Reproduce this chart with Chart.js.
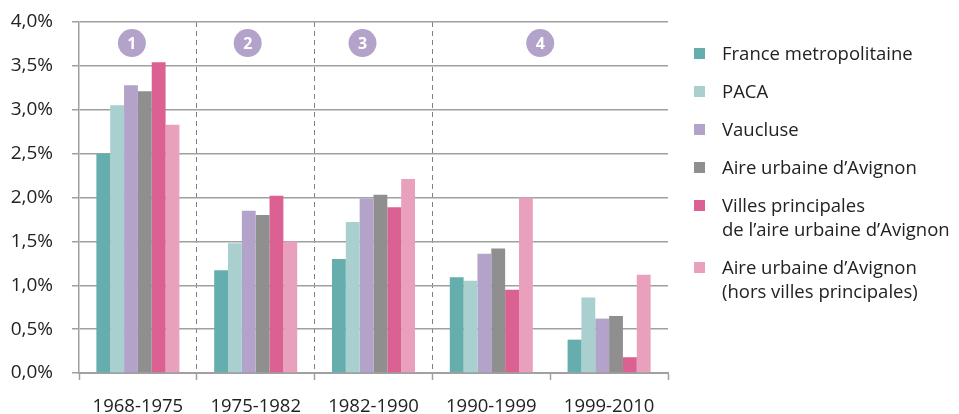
<!DOCTYPE html>
<html><head><meta charset="utf-8">
<script src="https://cdn.jsdelivr.net/npm/chart.js@4"></script>
<style>
html,body{margin:0;padding:0;background:#fff;}
#wrap{position:relative;width:959px;height:414px;overflow:hidden;}
#legend{position:absolute;left:694px;top:41px;font-family:"Open Sans",sans-serif;font-size:18.5px;color:#222;}
.li{position:relative;padding-left:28px;line-height:24px;margin-bottom:14px;white-space:nowrap;}
.li span.sw{position:absolute;left:0;top:7px;width:11px;height:11px;}
</style></head>
<body><div id="wrap"><canvas id="c" width="959" height="414"></canvas><div id="legend"></div></div>
<script>
const categories = ["1968-1975","1975-1982","1982-1990","1990-1999","1999-2010"];
const seriesNames = [
  ["France metropolitaine"],
  ["PACA"],
  ["Vaucluse"],
  ["Aire urbaine d\u2019Avignon"],
  ["Villes principales","de l\u2019aire urbaine d\u2019Avignon"],
  ["Aire urbaine d\u2019Avignon","(hors villes principales)"]
];
const franceValues   = [2.50, 1.17, 1.30, 1.09, 0.38];
const pacaValues     = [3.05, 1.48, 1.72, 1.05, 0.86];
const vaucluseValues = [3.28, 1.85, 1.99, 1.36, 0.62];
const aireValues     = [3.21, 1.80, 2.03, 1.42, 0.65];
const villesValues   = [3.54, 2.02, 1.89, 0.95, 0.18];
const horsValues     = [2.83, 1.50, 2.21, 2.00, 1.12];
const periodLabels = ["1","2","3","4"];
const yTicks = [0,0.5,1,1.5,2,2.5,3,3.5,4];

const colors = ["#66aead","#a9cfcf","#b3a2c9","#8f8f8f","#db6193","#e8a0bd"];
const allValues = [franceValues,pacaValues,vaucluseValues,aireValues,villesValues,horsValues];

const FONT = "'Open Sans', sans-serif";

const badges = {
  id:'badges',
  afterDatasetsDraw(chart){
    const x = chart.scales.x, c = chart.ctx;
    const pos = [x.getPixelForValue(0)-6, x.getPixelForValue(1)-8, x.getPixelForValue(2)-11,
                 (x.getPixelForValue(3)+x.getPixelForValue(4))/2-10];
    const y = chart.scales.y.getPixelForValue(3.76);
    c.save();
    periodLabels.forEach((t,i)=>{
      c.beginPath(); c.arc(pos[i], y, 14, 0, Math.PI*2); c.fillStyle="#b3a2c9"; c.fill();
      c.fillStyle="#fff"; c.font="bold 16px "+FONT; c.textAlign="center"; c.textBaseline="middle";
      c.fillText(t, pos[i], y+1);
    });
    c.restore();
  }
};

new Chart(document.getElementById('c'), {
  type:'bar',
  data:{
    labels:categories,
    datasets: allValues.map((v,i)=>({label:seriesNames[i].join(' '), data:v, backgroundColor:colors[i],
      barPercentage:1, categoryPercentage:0.705, borderWidth:0}))
  },
  options:{
    responsive:false, animation:false, maintainAspectRatio:false,
    layout:{padding:{top:22,right:291,left:0,bottom:0}},
    plugins:{legend:{display:false},tooltip:{enabled:false}},
    scales:{
      x:{
        grid:{offset:true, drawOnChartArea:true,
          color:(ctx)=> (ctx.index>=1 && ctx.index<=3) ? "#808080" : "rgba(0,0,0,0)",
          tickColor:"#a0a0a0", tickLength:7, lineWidth:1, tickWidth:1.5},
        border:{display:true,color:"#a0a0a0",width:2,dash:[5,4]},
        ticks:{font:{family:FONT,size:18.5},color:"#222",padding:16,maxRotation:0},
        afterFit(s){s.height=41;}
      },
      y:{
        min:0,max:4,
        afterBuildTicks(s){s.ticks=yTicks.map(v=>({value:v}));},
        grid:{color:"#a0a0a0",tickLength:7,lineWidth:1.5},
        border:{display:true,color:"#a0a0a0",width:1.5},
        ticks:{font:{family:FONT,size:19},color:"#222",padding:19,
          callback:(v)=>v.toFixed(1).replace('.',',')+'%'},
        afterFit(s){s.width=79; s.paddingTop=0; s.paddingBottom=0;}
      }
    }
  },
  plugins:[badges]
});

const lg = document.getElementById('legend');
seriesNames.forEach((n,i)=>{
  const d=document.createElement('div'); d.className='li';
  d.innerHTML='<span class="sw" style="background:'+colors[i]+'"></span>'+n.join('<br>');
  lg.appendChild(d);
});
</script></body></html>
